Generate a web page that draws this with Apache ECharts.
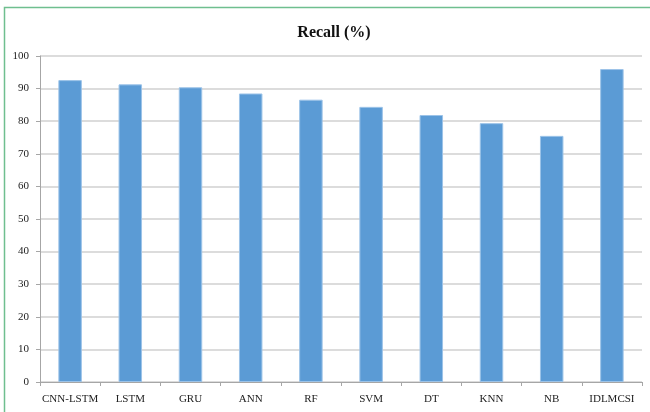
<!DOCTYPE html>
<html>
<head>
<meta charset="utf-8">
<script src="https://cdn.jsdelivr.net/npm/echarts@6/dist/echarts.min.js"></script>
<style>
  html, body { margin: 0; padding: 0; background: #fff; }
  #chart { width: 650px; height: 412px; }
</style>
</head>
<body>
<div id="chart"></div>
<script>
// Models compared and their recall scores (%)
const models = ['CNN-LSTM', 'LSTM', 'GRU', 'ANN', 'RF', 'SVM', 'DT', 'KNN', 'NB', 'IDLMCSI'];
const recall = [92.6, 91.3, 90.4, 88.5, 86.6, 84.4, 81.9, 79.4, 75.5, 96.0];
const yTicks = { min: 0, max: 100, step: 10 };

const chart = echarts.init(document.getElementById('chart'), null, { renderer: 'canvas' });

const serif = '"Liberation Serif", "DejaVu Serif", serif';

chart.setOption({
  animation: false,
  backgroundColor: '#ffffff',
  title: {
    text: 'Recall (%)',
    left: 329,
    textAlign: 'center',
    top: 20,
    textStyle: { fontFamily: serif, fontSize: 16, fontWeight: 'bold', color: '#111' }
  },
  graphic: [{
    type: 'rect',
    shape: { x: 4.5, y: 7.5, width: 700, height: 500 },
    style: { fill: 'none', stroke: '#6fbf8f', lineWidth: 1.5 },
    silent: true
  }],
  grid: { left: 40, right: 8, top: 56, bottom: 30 },
  xAxis: {
    type: 'category',
    data: models,
    axisLine: { show: true, lineStyle: { color: '#a6a6a6', width: 1 } },
    axisTick: { show: true, alignWithLabel: false, length: 4, lineStyle: { color: '#a6a6a6' } },
    axisLabel: { fontFamily: serif, fontSize: 11, color: '#222', margin: 12, interval: 0 }
  },
  yAxis: {
    type: 'value',
    min: yTicks.min,
    max: yTicks.max,
    interval: yTicks.step,
    axisLine: { show: true, lineStyle: { color: '#a6a6a6', width: 1 } },
    axisTick: { show: true, length: 4, lineStyle: { color: '#a6a6a6' } },
    axisLabel: { fontFamily: serif, fontSize: 11, color: '#222', margin: 11 },
    splitLine: { show: true, lineStyle: { color: '#d0d0d0', width: 1.5 } }
  },
  series: [{
    type: 'bar',
    data: recall,
    barWidth: '39%',
    itemStyle: { color: '#5b9bd5', borderColor: '#9cc3e8', borderWidth: 1 }
  }]
});
</script>
</body>
</html>
